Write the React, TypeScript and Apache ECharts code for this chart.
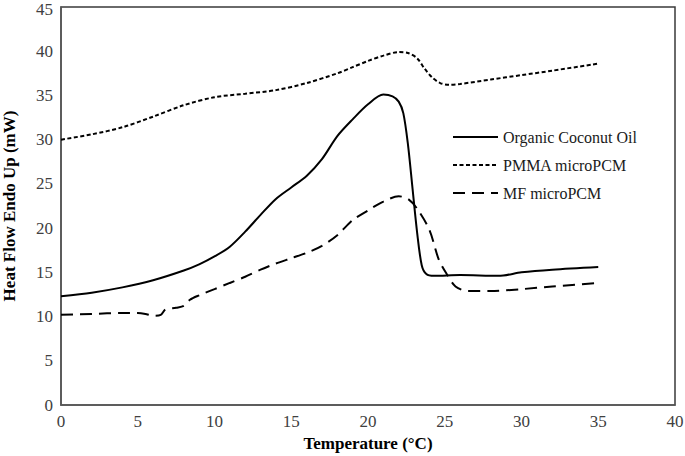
import React, { useEffect, useRef } from "react";
import * as echarts from "echarts";

const coconutT = [0, 2, 4, 6, 8, 9, 10, 11, 12, 13, 14, 15, 16, 17, 18, 19, 20, 21, 21.6, 22.0, 22.3, 22.6, 22.9, 23.2, 23.5, 23.8, 24.3, 26, 28.5, 30, 32, 35];
const coconutV = [12.3, 12.7, 13.3, 14.1, 15.2, 15.9, 16.8, 17.9, 19.6, 21.5, 23.3, 24.6, 25.9, 27.8, 30.4, 32.3, 34.0, 35.1, 34.9, 34.3, 33.0, 29.5, 24.5, 19.5, 15.8, 14.8, 14.6, 14.7, 14.6, 15.0, 15.3, 15.6];

const pmmaT = [0, 2, 4, 6, 8, 10, 12, 14, 16, 18, 19, 20, 21, 22, 22.6, 23.2, 23.7, 24.2, 24.7, 25.3, 26, 28, 30, 32, 35];
const pmmaV = [30.0, 30.6, 31.4, 32.6, 33.9, 34.8, 35.2, 35.6, 36.4, 37.5, 38.2, 38.9, 39.5, 39.9, 39.8, 39.2, 38.0, 37.0, 36.4, 36.2, 36.3, 36.8, 37.3, 37.8, 38.6];

const mfT = [0, 2, 4, 5, 5.5, 6, 6.5, 6.8, 7.5, 8, 8.4, 9, 10, 11, 12, 13, 14, 15, 16, 17, 18, 19, 20, 21, 22, 22.6, 23.2, 24, 24.6, 25.1, 25.7, 26.5, 28, 30, 32, 35];
const mfV = [10.2, 10.3, 10.4, 10.4, 10.3, 10.1, 10.2, 10.8, 11.0, 11.2, 11.9, 12.4, 13.1, 13.8, 14.5, 15.3, 16.0, 16.6, 17.2, 18.0, 19.2, 20.9, 22.0, 23.0, 23.6, 23.3, 22.2, 19.8, 16.5, 14.9, 13.4, 12.9, 12.9, 13.1, 13.4, 13.8];

const seriesNames = ["Organic Coconut Oil", "PMMA microPCM", "MF microPCM"];

const yMax = 45;

const serif = "'Liberation Serif', 'Times New Roman', serif";

function pairs(t: number[], v: number[]) {
  return t.map((x, i) => [x, v[i]]);
}

export default function App() {
  const ref = useRef<HTMLDivElement>(null);
  useEffect(() => {
    if (!ref.current) return;
    const chart = echarts.init(ref.current, undefined, { renderer: "svg" });
    const labelStyle = { fontFamily: serif, fontSize: 17, color: "#404040" };
    chart.setOption({
      animation: false,
      backgroundColor: "#ffffff",
      grid: {
        left: 61,
        right: 10,
        top: 7,
        bottom: 51,
        show: true,
        borderColor: "#3a3a3a",
        borderWidth: 1.5,
        containLabel: false,
        outerBoundsMode: "none",
      },
      legend: {
        orient: "vertical",
        left: 452,
        top: 129,
        padding: 0,
        itemWidth: 45,
        itemHeight: 14,
        itemGap: 12,
        itemStyle: { opacity: 0 },
        textStyle: { fontFamily: serif, fontSize: 16, color: "#1a1a1a" },
        data: seriesNames,
      },
      xAxis: {
        type: "value",
        min: 0,
        max: 40,
        interval: 5,
        name: "Temperature (°C)",
        nameLocation: "middle",
        nameGap: 30,
        nameTextStyle: { fontFamily: serif, fontSize: 17, fontWeight: "bold", color: "#000" },
        axisLine: { show: true, lineStyle: { color: "#595959", width: 1.5 } },
        axisTick: { show: false },
        splitLine: { show: false },
        axisLabel: { ...labelStyle, margin: 8 },
      },
      yAxis: {
        type: "value",
        min: 0,
        max: yMax,
        interval: 5,
        name: "Heat Flow Endo Up (mW)",
        nameLocation: "middle",
        nameGap: 43,
        nameTextStyle: { fontFamily: serif, fontSize: 17, fontWeight: "bold", color: "#000" },
        axisLine: { show: true, lineStyle: { color: "#595959", width: 1.5 } },
        axisTick: { show: false },
        splitLine: { show: false },
        axisLabel: {
          ...labelStyle,
          lineHeight: 14,
          margin: 8,
          formatter: (v: number) => (v === yMax ? "{top|" + v + "}" : String(v)),
          rich: { top: { ...labelStyle, lineHeight: 14, padding: [5, 0, 0, 0] } },
        },
      },
      series: [
        {
          name: seriesNames[0],
          type: "line",
          data: pairs(coconutT, coconutV),
          symbol: "none",
          smooth: 0.3,
          lineStyle: { color: "#000", width: 2, type: "solid" },
          itemStyle: { color: "#000" },
        },
        {
          name: seriesNames[1],
          type: "line",
          data: pairs(pmmaT, pmmaV),
          symbol: "none",
          smooth: 0.3,
          lineStyle: { color: "#000", width: 2, type: [4, 2.5] },
          itemStyle: { color: "#000" },
        },
        {
          name: seriesNames[2],
          type: "line",
          data: pairs(mfT, mfV),
          symbol: "none",
          smooth: 0.3,
          lineStyle: { color: "#000", width: 2, type: [12, 7] },
          itemStyle: { color: "#000" },
        },
      ],
    });
    return () => chart.dispose();
  }, []);
  return (
    <div
      ref={ref}
      style={{ position: "fixed", left: 0, top: 0, width: 685, height: 456, background: "#fff" }}
    />
  );
}
